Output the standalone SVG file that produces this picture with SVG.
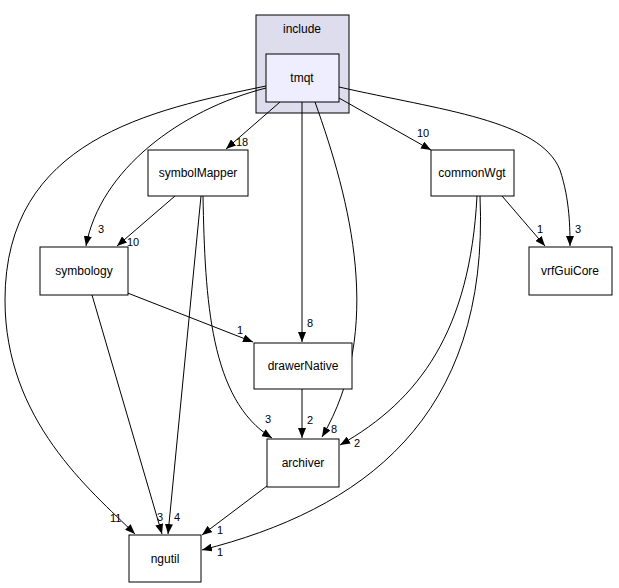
<svg xmlns="http://www.w3.org/2000/svg" width="619" height="588" viewBox="0 0 619 588">
<style>
text{font-family:"Liberation Sans",Arial,sans-serif;font-size:12px;fill:#000}
.n text{text-anchor:middle}
.n rect{fill:#fff;stroke:#000;stroke-width:1}
.e path{fill:none;stroke:#000;stroke-width:1;marker-end:url(#a)}
.l{font-size:11px}
</style>
<defs><marker id="a" markerWidth="10" markerHeight="8" refX="10" refY="4" orient="auto" markerUnits="userSpaceOnUse"><path d="M0,0 L10,4 L0,8 z" fill="#000"/></marker></defs>
<rect width="619" height="588" fill="#fff"/>
<g id="cluster_include"><rect x="256" y="15" width="93" height="98" fill="#ddddee" stroke="#000"/><text x="302" y="33" text-anchor="middle">include</text></g>
<g class="e" id="edges">
<path d="M266,86 C150,110 5,140 5,300 C5,420 90,490 135,534"/>
<path d="M266,88 C180,110 100,170 86,246"/>
<path d="M280,102 L226,149"/>
<path d="M302,102 L302,342"/>
<path d="M315,102 C350,200 385,330 322,437"/>
<path d="M339,98 L431,150"/>
<path d="M339,87 C440,110 540,120 560,170 C570,200 570,230 570,246"/>
<path d="M175,196 L117,246"/>
<path d="M201,196 L168,534"/>
<path d="M203,196 C205,300 210,400 272,438"/>
<path d="M125,292 L253,342"/>
<path d="M92,295 L162,534"/>
<path d="M477,196 C470,330 420,400 340,445"/>
<path d="M480,196 C490,420 360,510 202,550"/>
<path d="M502,196 L545,246"/>
<path d="M302,389 L302,438"/>
<path d="M267,486 L202,535"/>
<text class="l" x="110" y="522">11</text>
<text class="l" x="98" y="233">3</text>
<text class="l" x="236" y="146">18</text>
<text class="l" x="307" y="327">8</text>
<text class="l" x="331" y="433">8</text>
<text class="l" x="417" y="137">10</text>
<text class="l" x="575" y="233">3</text>
<text class="l" x="127" y="246">10</text>
<text class="l" x="174" y="521">4</text>
<text class="l" x="265" y="423">3</text>
<text class="l" x="237" y="334">1</text>
<text class="l" x="157" y="521">3</text>
<text class="l" x="354" y="447">2</text>
<text class="l" x="217" y="556">1</text>
<text class="l" x="537" y="233">1</text>
<text class="l" x="307" y="424">2</text>
<text class="l" x="217" y="534">1</text>
</g>
<g class="n" id="tmqt"><rect x="266" y="54" width="73" height="48" style="fill:#eeeeff"/><text x="302" y="82">tmqt</text></g>
<g class="n" id="symbolMapper"><rect x="148" y="150" width="100" height="46"/><text x="198" y="177">symbolMapper</text></g>
<g class="n" id="commonWgt"><rect x="431" y="150" width="83" height="46"/><text x="472" y="177">commonWgt</text></g>
<g class="n" id="symbology"><rect x="40" y="247" width="88" height="48"/><text x="84" y="275">symbology</text></g>
<g class="n" id="vrfGuiCore"><rect x="529" y="247" width="83" height="48"/><text x="570" y="275">vrfGuiCore</text></g>
<g class="n" id="drawerNative"><rect x="254" y="343" width="98" height="46"/><text x="303" y="370">drawerNative</text></g>
<g class="n" id="archiver"><rect x="267" y="439" width="72" height="48"/><text x="303" y="467">archiver</text></g>
<g class="n" id="ngutil"><rect x="129" y="535" width="72" height="47"/><text x="165" y="563">ngutil</text></g>
</svg>
